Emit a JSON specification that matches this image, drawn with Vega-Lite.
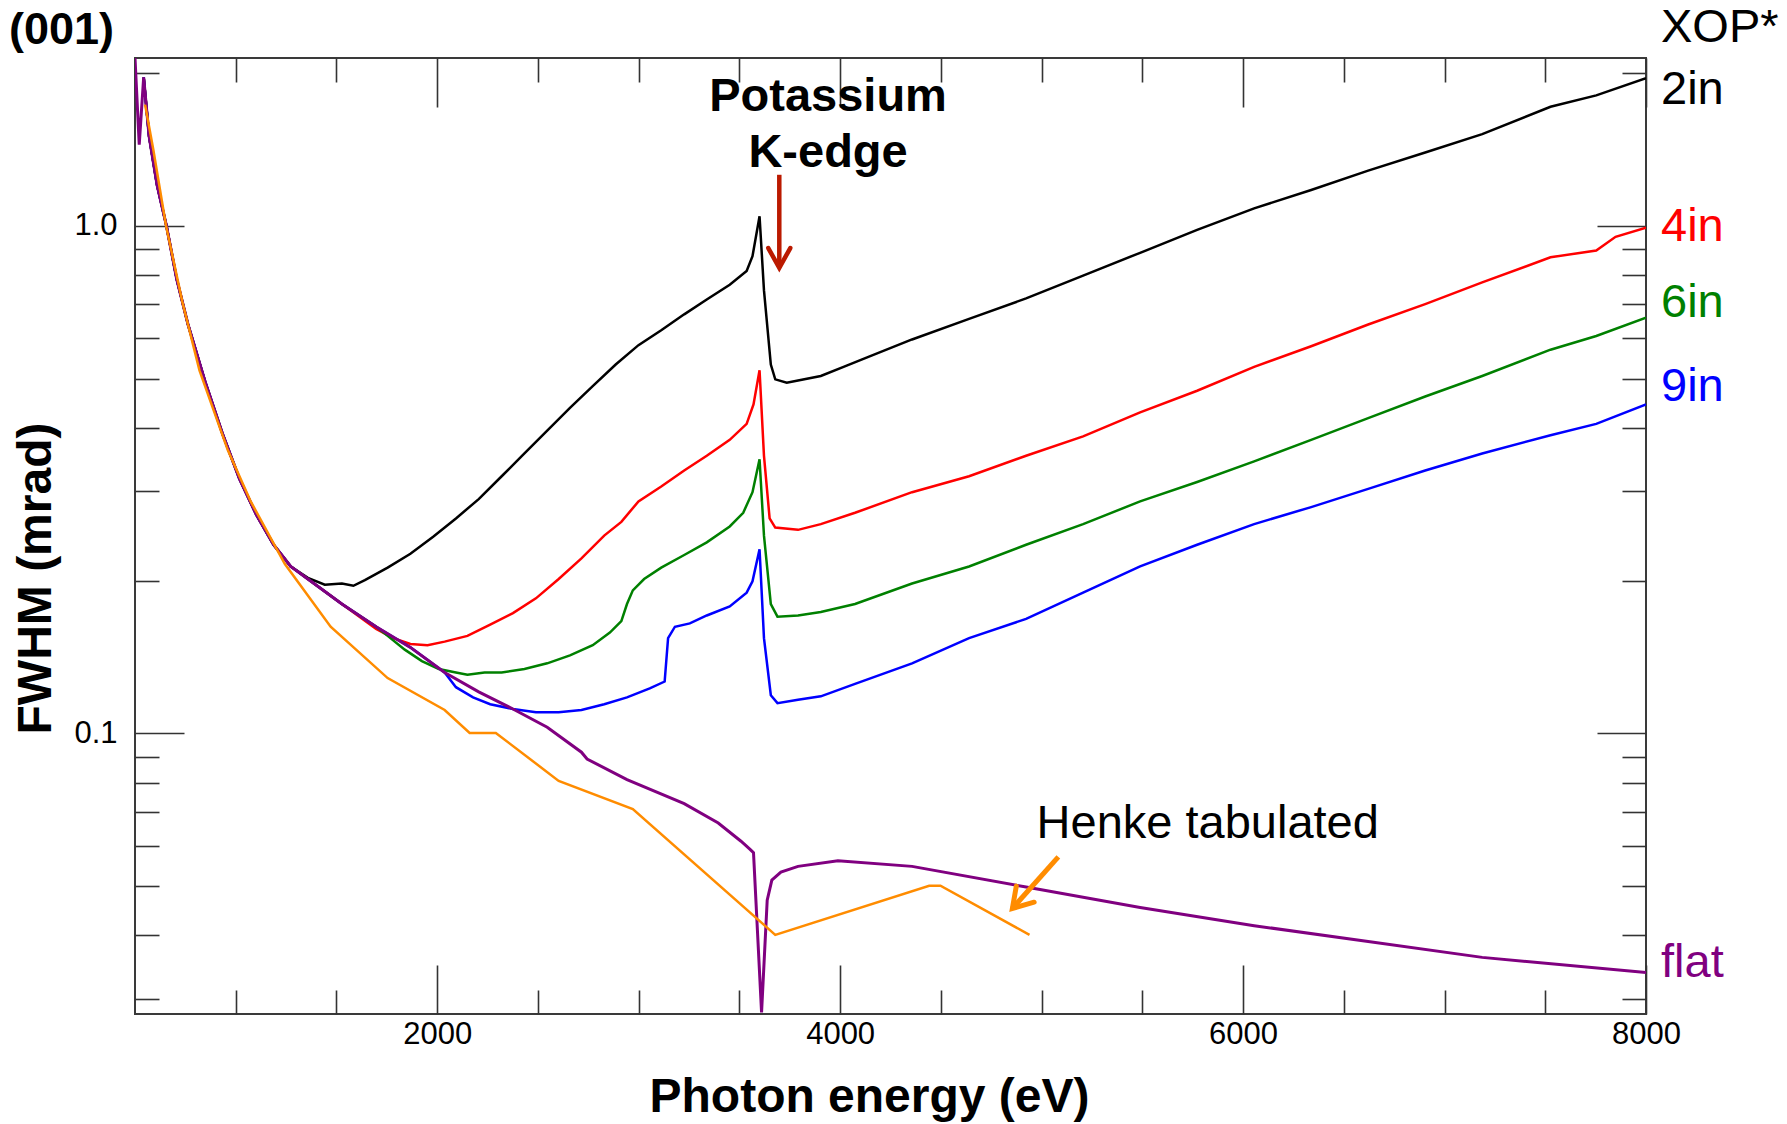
{
  "$schema": "https://vega.github.io/schema/vega-lite/v6.json",
  "width": 1511,
  "height": 956,
  "autosize": {"type": "none"},
  "padding": {"left": 135, "top": 58, "right": 141, "bottom": 110},
  "background": "white",
  "config": {
    "font": "Liberation Sans",
    "view": {"stroke": "#3a3a3a", "strokeWidth": 2}
  },
  "datasets": {
    "curves": [
      {"s": "2in", "E": 543, "v": 1.96}, {"s": "2in", "E": 570, "v": 1.5}, {"s": "2in", "E": 610, "v": 1.2}, {"s": "2in", "E": 656, "v": 1.0},
      {"s": "2in", "E": 707, "v": 0.785}, {"s": "2in", "E": 763, "v": 0.639}, {"s": "2in", "E": 848, "v": 0.493}, {"s": "2in", "E": 933, "v": 0.3906},
      {"s": "2in", "E": 1018, "v": 0.3176}, {"s": "2in", "E": 1103, "v": 0.2692}, {"s": "2in", "E": 1188, "v": 0.2353}, {"s": "2in", "E": 1273, "v": 0.2132},
      {"s": "2in", "E": 1358, "v": 0.2025}, {"s": "2in", "E": 1442, "v": 0.1963}, {"s": "2in", "E": 1527, "v": 0.1973}, {"s": "2in", "E": 1584, "v": 0.1953},
      {"s": "2in", "E": 1641, "v": 0.2004}, {"s": "2in", "E": 1754, "v": 0.2121}, {"s": "2in", "E": 1867, "v": 0.2258}, {"s": "2in", "E": 1980, "v": 0.244},
      {"s": "2in", "E": 2093, "v": 0.2651}, {"s": "2in", "E": 2206, "v": 0.2894}, {"s": "2in", "E": 2320, "v": 0.321}, {"s": "2in", "E": 2433, "v": 0.3559},
      {"s": "2in", "E": 2546, "v": 0.3947}, {"s": "2in", "E": 2659, "v": 0.4378}, {"s": "2in", "E": 2772, "v": 0.483}, {"s": "2in", "E": 2886, "v": 0.5328},
      {"s": "2in", "E": 2999, "v": 0.5818}, {"s": "2in", "E": 3112, "v": 0.6222}, {"s": "2in", "E": 3226, "v": 0.669}, {"s": "2in", "E": 3338, "v": 0.7155},
      {"s": "2in", "E": 3452, "v": 0.7652}, {"s": "2in", "E": 3536, "v": 0.8142}, {"s": "2in", "E": 3565, "v": 0.8709}, {"s": "2in", "E": 3600, "v": 1.044},
      {"s": "2in", "E": 3622, "v": 0.7456}, {"s": "2in", "E": 3656, "v": 0.5328}, {"s": "2in", "E": 3678, "v": 0.4982}, {"s": "2in", "E": 3735, "v": 0.4905},
      {"s": "2in", "E": 3791, "v": 0.4956}, {"s": "2in", "E": 3904, "v": 0.5059}, {"s": "2in", "E": 4017, "v": 0.5273}, {"s": "2in", "E": 4131, "v": 0.5496},
      {"s": "2in", "E": 4357, "v": 0.597}, {"s": "2in", "E": 4640, "v": 0.6553}, {"s": "2in", "E": 4923, "v": 0.7192}, {"s": "2in", "E": 5206, "v": 0.7976},
      {"s": "2in", "E": 5489, "v": 0.8845}, {"s": "2in", "E": 5772, "v": 0.981}, {"s": "2in", "E": 6055, "v": 1.082}, {"s": "2in", "E": 6338, "v": 1.176},
      {"s": "2in", "E": 6621, "v": 1.284}, {"s": "2in", "E": 6904, "v": 1.394}, {"s": "2in", "E": 7187, "v": 1.515}, {"s": "2in", "E": 7526, "v": 1.715},
      {"s": "2in", "E": 7753, "v": 1.806}, {"s": "2in", "E": 8000, "v": 1.952},

      {"s": "4in", "E": 543, "v": 1.96}, {"s": "4in", "E": 570, "v": 1.5}, {"s": "4in", "E": 610, "v": 1.2}, {"s": "4in", "E": 656, "v": 1.0},
      {"s": "4in", "E": 707, "v": 0.785}, {"s": "4in", "E": 763, "v": 0.639}, {"s": "4in", "E": 848, "v": 0.493}, {"s": "4in", "E": 933, "v": 0.3906},
      {"s": "4in", "E": 1018, "v": 0.3176}, {"s": "4in", "E": 1103, "v": 0.2692}, {"s": "4in", "E": 1188, "v": 0.2353}, {"s": "4in", "E": 1273, "v": 0.2132},
      {"s": "4in", "E": 1358, "v": 0.2014}, {"s": "4in", "E": 1527, "v": 0.1798}, {"s": "4in", "E": 1697, "v": 0.1605}, {"s": "4in", "E": 1782, "v": 0.154},
      {"s": "4in", "E": 1867, "v": 0.15}, {"s": "4in", "E": 1952, "v": 0.1492}, {"s": "4in", "E": 2037, "v": 0.1516}, {"s": "4in", "E": 2150, "v": 0.1556},
      {"s": "4in", "E": 2263, "v": 0.1638}, {"s": "4in", "E": 2376, "v": 0.1725}, {"s": "4in", "E": 2490, "v": 0.1845}, {"s": "4in", "E": 2603, "v": 0.2014},
      {"s": "4in", "E": 2716, "v": 0.2211}, {"s": "4in", "E": 2829, "v": 0.2452}, {"s": "4in", "E": 2914, "v": 0.261}, {"s": "4in", "E": 2999, "v": 0.2864},
      {"s": "4in", "E": 3112, "v": 0.3064}, {"s": "4in", "E": 3226, "v": 0.3294}, {"s": "4in", "E": 3338, "v": 0.3522}, {"s": "4in", "E": 3452, "v": 0.3787},
      {"s": "4in", "E": 3536, "v": 0.4071}, {"s": "4in", "E": 3570, "v": 0.4446}, {"s": "4in", "E": 3600, "v": 0.5192}, {"s": "4in", "E": 3622, "v": 0.3522},
      {"s": "4in", "E": 3650, "v": 0.2651}, {"s": "4in", "E": 3678, "v": 0.2543}, {"s": "4in", "E": 3791, "v": 0.2517}, {"s": "4in", "E": 3904, "v": 0.2583},
      {"s": "4in", "E": 4074, "v": 0.272}, {"s": "4in", "E": 4357, "v": 0.2986}, {"s": "4in", "E": 4640, "v": 0.321}, {"s": "4in", "E": 4923, "v": 0.3522},
      {"s": "4in", "E": 5206, "v": 0.3846}, {"s": "4in", "E": 5489, "v": 0.4288}, {"s": "4in", "E": 5772, "v": 0.4731}, {"s": "4in", "E": 6055, "v": 0.5273},
      {"s": "4in", "E": 6338, "v": 0.5788}, {"s": "4in", "E": 6621, "v": 0.639}, {"s": "4in", "E": 6904, "v": 0.7008}, {"s": "4in", "E": 7187, "v": 0.7732},
      {"s": "4in", "E": 7526, "v": 0.8665}, {"s": "4in", "E": 7753, "v": 0.8939}, {"s": "4in", "E": 7849, "v": 0.9511}, {"s": "4in", "E": 8000, "v": 0.9912},

      {"s": "6in", "E": 543, "v": 1.96}, {"s": "6in", "E": 570, "v": 1.5}, {"s": "6in", "E": 610, "v": 1.2}, {"s": "6in", "E": 656, "v": 1.0},
      {"s": "6in", "E": 707, "v": 0.785}, {"s": "6in", "E": 763, "v": 0.639}, {"s": "6in", "E": 848, "v": 0.493}, {"s": "6in", "E": 933, "v": 0.3906},
      {"s": "6in", "E": 1018, "v": 0.3176}, {"s": "6in", "E": 1103, "v": 0.2692}, {"s": "6in", "E": 1188, "v": 0.2353}, {"s": "6in", "E": 1273, "v": 0.2132},
      {"s": "6in", "E": 1358, "v": 0.2014}, {"s": "6in", "E": 1527, "v": 0.1798}, {"s": "6in", "E": 1697, "v": 0.1622}, {"s": "6in", "E": 1754, "v": 0.1556},
      {"s": "6in", "E": 1839, "v": 0.1462}, {"s": "6in", "E": 1924, "v": 0.1388}, {"s": "6in", "E": 2008, "v": 0.1339}, {"s": "6in", "E": 2093, "v": 0.1318},
      {"s": "6in", "E": 2150, "v": 0.1305}, {"s": "6in", "E": 2235, "v": 0.1318}, {"s": "6in", "E": 2320, "v": 0.1318}, {"s": "6in", "E": 2433, "v": 0.1339},
      {"s": "6in", "E": 2546, "v": 0.1374}, {"s": "6in", "E": 2659, "v": 0.1424}, {"s": "6in", "E": 2772, "v": 0.1492}, {"s": "6in", "E": 2857, "v": 0.158},
      {"s": "6in", "E": 2914, "v": 0.1664}, {"s": "6in", "E": 2942, "v": 0.1798}, {"s": "6in", "E": 2971, "v": 0.1913}, {"s": "6in", "E": 3027, "v": 0.2014},
      {"s": "6in", "E": 3112, "v": 0.2121}, {"s": "6in", "E": 3226, "v": 0.2246}, {"s": "6in", "E": 3338, "v": 0.2378}, {"s": "6in", "E": 3452, "v": 0.2556},
      {"s": "6in", "E": 3519, "v": 0.272}, {"s": "6in", "E": 3565, "v": 0.2986}, {"s": "6in", "E": 3600, "v": 0.3468}, {"s": "6in", "E": 3622, "v": 0.2452},
      {"s": "6in", "E": 3656, "v": 0.1798}, {"s": "6in", "E": 3689, "v": 0.1698}, {"s": "6in", "E": 3791, "v": 0.1707}, {"s": "6in", "E": 3904, "v": 0.1734},
      {"s": "6in", "E": 4074, "v": 0.1798}, {"s": "6in", "E": 4357, "v": 0.1973}, {"s": "6in", "E": 4640, "v": 0.2132}, {"s": "6in", "E": 4923, "v": 0.2353},
      {"s": "6in", "E": 5206, "v": 0.2583}, {"s": "6in", "E": 5489, "v": 0.2864}, {"s": "6in", "E": 5772, "v": 0.3128}, {"s": "6in", "E": 6055, "v": 0.3433},
      {"s": "6in", "E": 6338, "v": 0.3787}, {"s": "6in", "E": 6621, "v": 0.4179}, {"s": "6in", "E": 6904, "v": 0.4609}, {"s": "6in", "E": 7187, "v": 0.5059},
      {"s": "6in", "E": 7526, "v": 0.5699}, {"s": "6in", "E": 7753, "v": 0.6063}, {"s": "6in", "E": 8000, "v": 0.6587},

      {"s": "9in", "E": 543, "v": 1.96}, {"s": "9in", "E": 570, "v": 1.5}, {"s": "9in", "E": 610, "v": 1.2}, {"s": "9in", "E": 656, "v": 1.0},
      {"s": "9in", "E": 707, "v": 0.785}, {"s": "9in", "E": 763, "v": 0.639}, {"s": "9in", "E": 848, "v": 0.493}, {"s": "9in", "E": 933, "v": 0.3906},
      {"s": "9in", "E": 1018, "v": 0.3176}, {"s": "9in", "E": 1103, "v": 0.2692}, {"s": "9in", "E": 1188, "v": 0.2353}, {"s": "9in", "E": 1273, "v": 0.2132},
      {"s": "9in", "E": 1358, "v": 0.2014}, {"s": "9in", "E": 1527, "v": 0.1798}, {"s": "9in", "E": 1697, "v": 0.1622}, {"s": "9in", "E": 1867, "v": 0.1477},
      {"s": "9in", "E": 2037, "v": 0.1318}, {"s": "9in", "E": 2093, "v": 0.1233}, {"s": "9in", "E": 2178, "v": 0.1177}, {"s": "9in", "E": 2263, "v": 0.1141},
      {"s": "9in", "E": 2376, "v": 0.1117}, {"s": "9in", "E": 2490, "v": 0.11}, {"s": "9in", "E": 2603, "v": 0.11}, {"s": "9in", "E": 2716, "v": 0.1112},
      {"s": "9in", "E": 2829, "v": 0.1141}, {"s": "9in", "E": 2942, "v": 0.1177}, {"s": "9in", "E": 3055, "v": 0.1226}, {"s": "9in", "E": 3129, "v": 0.1265},
      {"s": "9in", "E": 3146, "v": 0.154}, {"s": "9in", "E": 3180, "v": 0.1622}, {"s": "9in", "E": 3254, "v": 0.1647}, {"s": "9in", "E": 3338, "v": 0.1707},
      {"s": "9in", "E": 3452, "v": 0.1779}, {"s": "9in", "E": 3536, "v": 0.1893}, {"s": "9in", "E": 3565, "v": 0.1994}, {"s": "9in", "E": 3600, "v": 0.2305},
      {"s": "9in", "E": 3622, "v": 0.154}, {"s": "9in", "E": 3656, "v": 0.1189}, {"s": "9in", "E": 3689, "v": 0.1147}, {"s": "9in", "E": 3791, "v": 0.1165},
      {"s": "9in", "E": 3904, "v": 0.1183}, {"s": "9in", "E": 4074, "v": 0.1252}, {"s": "9in", "E": 4357, "v": 0.1374}, {"s": "9in", "E": 4640, "v": 0.154},
      {"s": "9in", "E": 4923, "v": 0.1681}, {"s": "9in", "E": 5206, "v": 0.1893}, {"s": "9in", "E": 5489, "v": 0.2132}, {"s": "9in", "E": 5772, "v": 0.2353},
      {"s": "9in", "E": 6055, "v": 0.2583}, {"s": "9in", "E": 6338, "v": 0.2791}, {"s": "9in", "E": 6621, "v": 0.3032}, {"s": "9in", "E": 6904, "v": 0.3294},
      {"s": "9in", "E": 7187, "v": 0.3559}, {"s": "9in", "E": 7526, "v": 0.3866}, {"s": "9in", "E": 7753, "v": 0.4071}, {"s": "9in", "E": 8000, "v": 0.4446},

      {"s": "flat", "E": 500, "v": 2.14}, {"s": "flat", "E": 521, "v": 1.444}, {"s": "flat", "E": 543, "v": 1.96}, {"s": "flat", "E": 570, "v": 1.5},
      {"s": "flat", "E": 610, "v": 1.2}, {"s": "flat", "E": 656, "v": 1.0}, {"s": "flat", "E": 707, "v": 0.785}, {"s": "flat", "E": 763, "v": 0.639},
      {"s": "flat", "E": 848, "v": 0.493}, {"s": "flat", "E": 933, "v": 0.3906}, {"s": "flat", "E": 1018, "v": 0.3176}, {"s": "flat", "E": 1103, "v": 0.2692},
      {"s": "flat", "E": 1188, "v": 0.2353}, {"s": "flat", "E": 1273, "v": 0.2132}, {"s": "flat", "E": 1358, "v": 0.2014}, {"s": "flat", "E": 1527, "v": 0.1798},
      {"s": "flat", "E": 1697, "v": 0.1622}, {"s": "flat", "E": 1867, "v": 0.1477}, {"s": "flat", "E": 2037, "v": 0.1318}, {"s": "flat", "E": 2206, "v": 0.1207},
      {"s": "flat", "E": 2376, "v": 0.1117}, {"s": "flat", "E": 2546, "v": 0.1028}, {"s": "flat", "E": 2716, "v": 0.0918}, {"s": "flat", "E": 2744, "v": 0.089},
      {"s": "flat", "E": 2942, "v": 0.0811}, {"s": "flat", "E": 3226, "v": 0.0727}, {"s": "flat", "E": 3395, "v": 0.0666}, {"s": "flat", "E": 3508, "v": 0.0613},
      {"s": "flat", "E": 3553, "v": 0.0591}, {"s": "flat", "E": 3570, "v": 0.0582}, {"s": "flat", "E": 3610, "v": 0.0282}, {"s": "flat", "E": 3638, "v": 0.0469},
      {"s": "flat", "E": 3661, "v": 0.0514}, {"s": "flat", "E": 3706, "v": 0.0533}, {"s": "flat", "E": 3791, "v": 0.0547}, {"s": "flat", "E": 3989, "v": 0.0561},
      {"s": "flat", "E": 4357, "v": 0.0547}, {"s": "flat", "E": 4923, "v": 0.0498}, {"s": "flat", "E": 5489, "v": 0.0454}, {"s": "flat", "E": 6055, "v": 0.0418},
      {"s": "flat", "E": 6621, "v": 0.0389}, {"s": "flat", "E": 7187, "v": 0.0362}, {"s": "flat", "E": 8000, "v": 0.0338},

      {"s": "Henke", "E": 550, "v": 1.732}, {"s": "Henke", "E": 591, "v": 1.412}, {"s": "Henke", "E": 654, "v": 1.0}, {"s": "Henke", "E": 735, "v": 0.708},
      {"s": "Henke", "E": 820, "v": 0.519}, {"s": "Henke", "E": 961, "v": 0.361}, {"s": "Henke", "E": 1075, "v": 0.286}, {"s": "Henke", "E": 1244, "v": 0.2156},
      {"s": "Henke", "E": 1471, "v": 0.1622}, {"s": "Henke", "E": 1754, "v": 0.1285}, {"s": "Henke", "E": 2037, "v": 0.1112}, {"s": "Henke", "E": 2161, "v": 0.1002},
      {"s": "Henke", "E": 2291, "v": 0.1002}, {"s": "Henke", "E": 2603, "v": 0.0806}, {"s": "Henke", "E": 2971, "v": 0.0709}, {"s": "Henke", "E": 3678, "v": 0.0401},
      {"s": "Henke", "E": 4442, "v": 0.0501}, {"s": "Henke", "E": 4498, "v": 0.0501}, {"s": "Henke", "E": 4940, "v": 0.0401}
    ],
    "labels": [
      {"s": "XOP*", "E": 8000, "v": 2.457},
      {"s": "2in", "E": 8000, "v": 1.854},
      {"s": "4in", "E": 8000, "v": 0.9955},
      {"s": "6in", "E": 8000, "v": 0.7051},
      {"s": "9in", "E": 8000, "v": 0.4816},
      {"s": "flat", "E": 8000, "v": 0.03526}
    ],
    "panel": [
      {"t": "(001)", "E": 500, "v": 2.43}
    ],
    "notes": [
      {"t": "Potassium", "E": 3940, "v": 1.68},
      {"t": "K-edge", "E": 3940, "v": 1.305}
    ],
    "henkeNote": [
      {"t": "Henke tabulated", "E": 4975, "v": 0.06225}
    ],
    "arrows": [
      {"a": "K", "p": "tail", "E": 3698, "v": 1.26},
      {"a": "K", "p": "tip", "E": 3698, "v": 0.826},
      {"a": "H", "p": "tail", "E": 5083, "v": 0.0571},
      {"a": "H", "p": "tip", "E": 4855, "v": 0.0452}
    ]
  },
  "layer": [
    {
      "data": {"name": "curves"},
      "transform": [{"filter": "indexof(['2in','4in','6in','9in'], datum.s) >= 0"}],
      "mark": {"type": "line", "strokeWidth": 2.5, "clip": true},
      "encoding": {
        "x": {
          "field": "E", "type": "quantitative",
          "scale": {"domain": [500, 8000], "nice": false, "zero": false},
          "axis": {
            "orient": "bottom",
            "values": [1000, 1500, 2000, 2500, 3000, 3500, 4000, 4500, 5000, 5500, 6000, 6500, 7000, 7500, 8000],
            "format": "d",
            "labelExpr": "datum.value % 2000 === 0 ? datum.label : ''",
            "tickSize": {"condition": {"test": "datum.value % 2000 === 0", "value": -49}, "value": -24},
            "tickColor": "#333333", "tickWidth": 1.6,
            "labelPadding": 54, "labelFontSize": 31, "labelColor": "#000000",
            "labelFlush": false, "labelOverlap": false, "labelBound": false,
            "domain": false, "grid": false,
            "title": "Photon energy (eV)", "titleFontSize": 48, "titleFontWeight": "bold", "titleColor": "#000000",
            "titleX": 734, "titleY": 97, "titleBaseline": "alphabetic", "titleAlign": "center"
          }
        },
        "y": {
          "field": "v", "type": "quantitative",
          "scale": {"type": "log", "domain": [0.028, 2.14], "nice": false},
          "axis": {
            "orient": "left",
            "values": [0.03, 0.04, 0.05, 0.06, 0.07, 0.08, 0.09, 0.1, 0.2, 0.3, 0.4, 0.5, 0.6, 0.7, 0.8, 0.9, 1, 2],
            "labelExpr": "datum.value == 1 ? '1.0' : (datum.value == 0.1 ? '0.1' : '')",
            "tickSize": {"condition": {"test": "datum.value == 1 || datum.value == 0.1", "value": -49}, "value": -24},
            "tickColor": "#333333", "tickWidth": 1.6,
            "labelPadding": 67, "labelFontSize": 31, "labelColor": "#000000",
            "labelOverlap": false, "labelBound": false, "labelFlush": false,
            "domain": false, "grid": false,
            "title": "FWHM (mrad)", "titleFontSize": 48, "titleFontWeight": "bold", "titleColor": "#000000",
            "titleX": -85, "titleY": 520, "titleAngle": -90, "titleBaseline": "alphabetic", "titleAlign": "center"
          }
        },
        "color": {
          "field": "s", "type": "nominal",
          "scale": {"domain": ["2in", "4in", "6in", "9in", "flat", "Henke", "XOP*"], "range": ["#000000", "#ff0000", "#008000", "#0000ff", "#800080", "#ff8c00", "#000000"]},
          "legend": null
        }
      }
    },
    {
      "data": {"name": "curves"},
      "transform": [{"filter": "datum.s === 'flat'"}],
      "mark": {"type": "line", "strokeWidth": 3, "clip": true},
      "encoding": {
        "x": {
          "field": "E", "type": "quantitative",
          "scale": {"domain": [500, 8000], "nice": false, "zero": false},
          "axis": {
            "orient": "top",
            "values": [1000, 1500, 2000, 2500, 3000, 3500, 4000, 4500, 5000, 5500, 6000, 6500, 7000, 7500, 8000],
            "labels": false,
            "tickSize": {"condition": {"test": "datum.value % 2000 === 0", "value": -49}, "value": -24},
            "tickColor": "#333333", "tickWidth": 1.6,
            "domain": false, "grid": false, "title": null
          }
        },
        "y": {
          "field": "v", "type": "quantitative",
          "scale": {"type": "log", "domain": [0.028, 2.14], "nice": false},
          "axis": {
            "orient": "right",
            "values": [0.03, 0.04, 0.05, 0.06, 0.07, 0.08, 0.09, 0.1, 0.2, 0.3, 0.4, 0.5, 0.6, 0.7, 0.8, 0.9, 1, 2],
            "labels": false,
            "tickSize": {"condition": {"test": "datum.value == 1 || datum.value == 0.1", "value": -49}, "value": -24},
            "tickColor": "#333333", "tickWidth": 1.6,
            "domain": false, "grid": false, "title": null
          }
        },
        "color": {
          "field": "s", "type": "nominal",
          "scale": {"domain": ["2in", "4in", "6in", "9in", "flat", "Henke", "XOP*"], "range": ["#000000", "#ff0000", "#008000", "#0000ff", "#800080", "#ff8c00", "#000000"]},
          "legend": null
        }
      }
    },
    {
      "data": {"name": "curves"},
      "transform": [{"filter": "datum.s === 'Henke'"}],
      "mark": {"type": "line", "strokeWidth": 2.5, "clip": true},
      "encoding": {
        "x": {"field": "E", "type": "quantitative", "scale": {"domain": [500, 8000], "nice": false, "zero": false}, "axis": null},
        "y": {"field": "v", "type": "quantitative", "scale": {"type": "log", "domain": [0.028, 2.14], "nice": false}, "axis": null},
        "color": {
          "field": "s", "type": "nominal",
          "scale": {"domain": ["2in", "4in", "6in", "9in", "flat", "Henke", "XOP*"], "range": ["#000000", "#ff0000", "#008000", "#0000ff", "#800080", "#ff8c00", "#000000"]},
          "legend": null
        }
      }
    },
    {
      "data": {"name": "arrows"},
      "transform": [{"filter": "datum.a === 'K'"}],
      "mark": {"type": "line", "color": "#bb1a00", "strokeWidth": 4.5, "clip": false},
      "encoding": {
        "x": {"field": "E", "type": "quantitative", "scale": {"domain": [500, 8000], "nice": false, "zero": false}, "axis": null},
        "y": {"field": "v", "type": "quantitative", "scale": {"type": "log", "domain": [0.028, 2.14], "nice": false}, "axis": null}
      }
    },
    {
      "data": {"name": "arrows"},
      "transform": [{"filter": "datum.a === 'K' && datum.p === 'tip'"}],
      "mark": {"type": "point", "shape": "M-1,-1.8L0,0L1,-1.8", "filled": false, "color": "#bb1a00", "strokeWidth": 4.5, "opacity": 1, "size": 484, "strokeCap": "round", "strokeJoin": "miter"},
      "encoding": {
        "x": {"field": "E", "type": "quantitative", "scale": {"domain": [500, 8000], "nice": false, "zero": false}, "axis": null},
        "y": {"field": "v", "type": "quantitative", "scale": {"type": "log", "domain": [0.028, 2.14], "nice": false}, "axis": null}
      }
    },
    {
      "data": {"name": "arrows"},
      "transform": [{"filter": "datum.a === 'H'"}],
      "mark": {"type": "line", "color": "#ff8c00", "strokeWidth": 5, "clip": false},
      "encoding": {
        "x": {"field": "E", "type": "quantitative", "scale": {"domain": [500, 8000], "nice": false, "zero": false}, "axis": null},
        "y": {"field": "v", "type": "quantitative", "scale": {"type": "log", "domain": [0.028, 2.14], "nice": false}, "axis": null}
      }
    },
    {
      "data": {"name": "arrows"},
      "transform": [{"filter": "datum.a === 'H' && datum.p === 'tip'"}],
      "mark": {"type": "point", "shape": "M-1,-1.6L0,0L1,-1.6", "filled": false, "color": "#ff8c00", "strokeWidth": 5, "opacity": 1, "size": 576, "angle": 42, "strokeCap": "round"},
      "encoding": {
        "x": {"field": "E", "type": "quantitative", "scale": {"domain": [500, 8000], "nice": false, "zero": false}, "axis": null},
        "y": {"field": "v", "type": "quantitative", "scale": {"type": "log", "domain": [0.028, 2.14], "nice": false}, "axis": null}
      }
    },
    {
      "data": {"name": "labels"},
      "mark": {"type": "text", "align": "left", "baseline": "middle", "dx": 15, "fontSize": 47},
      "encoding": {
        "x": {"field": "E", "type": "quantitative", "scale": {"domain": [500, 8000], "nice": false, "zero": false}, "axis": null},
        "y": {"field": "v", "type": "quantitative", "scale": {"type": "log", "domain": [0.028, 2.14], "nice": false}, "axis": null},
        "text": {"field": "s"},
        "color": {
          "field": "s", "type": "nominal",
          "scale": {"domain": ["2in", "4in", "6in", "9in", "flat", "Henke", "XOP*"], "range": ["#000000", "#ff0000", "#008000", "#0000ff", "#800080", "#ff8c00", "#000000"]},
          "legend": null
        }
      }
    },
    {
      "data": {"name": "panel"},
      "mark": {"type": "text", "align": "left", "baseline": "middle", "dx": -126, "fontSize": 45, "fontWeight": "bold", "color": "#000000"},
      "encoding": {
        "x": {"field": "E", "type": "quantitative", "scale": {"domain": [500, 8000], "nice": false, "zero": false}, "axis": null},
        "y": {"field": "v", "type": "quantitative", "scale": {"type": "log", "domain": [0.028, 2.14], "nice": false}, "axis": null},
        "text": {"field": "t"}
      }
    },
    {
      "data": {"name": "notes"},
      "mark": {"type": "text", "align": "center", "baseline": "alphabetic", "fontSize": 47, "fontWeight": "bold", "color": "#000000"},
      "encoding": {
        "x": {"field": "E", "type": "quantitative", "scale": {"domain": [500, 8000], "nice": false, "zero": false}, "axis": null},
        "y": {"field": "v", "type": "quantitative", "scale": {"type": "log", "domain": [0.028, 2.14], "nice": false}, "axis": null},
        "text": {"field": "t"}
      }
    },
    {
      "data": {"name": "henkeNote"},
      "mark": {"type": "text", "align": "left", "baseline": "alphabetic", "fontSize": 47, "color": "#000000"},
      "encoding": {
        "x": {"field": "E", "type": "quantitative", "scale": {"domain": [500, 8000], "nice": false, "zero": false}, "axis": null},
        "y": {"field": "v", "type": "quantitative", "scale": {"type": "log", "domain": [0.028, 2.14], "nice": false}, "axis": null},
        "text": {"field": "t"}
      }
    }
  ],
  "resolve": {"axis": {"x": "independent", "y": "independent"}}
}
